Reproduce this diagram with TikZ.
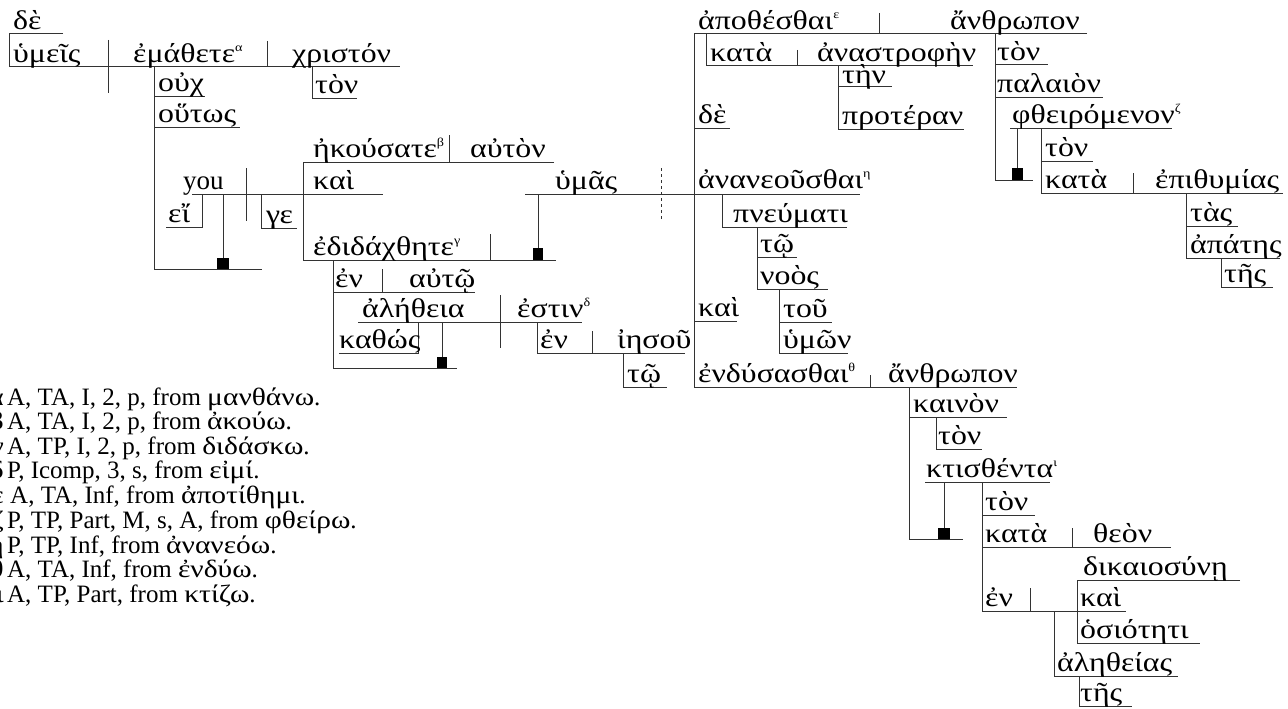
\documentclass[tikz,border=0pt]{standalone}
\usepackage{fontspec}
\setmainfont{Liberation Serif}
\newfontfamily\gr[FakeStretch=1.18]{Liberation Serif}
% raised morphology marker after a verb form
\newcommand\gs[1]{\raisebox{0.42em}{\fontsize{12}{13}\selectfont #1}}
% a word sitting on its base line: name, x, line y, text
\newcommand\wrd[4]{\node[wordtext] (#1) at (#2,#3-4.5) {#4};}
% one line of the parsing notes: name, y, marker, text
\newcommand\note[4]{\node[notetext,anchor=base east] (#1m) at (4,#2) {\gr #3};
  \node[notetext] (#1) at (7,#2) {#4};}
\begin{document}
\begin{tikzpicture}[x=1pt,y=-1pt,
  ln/.style={line width=1pt, draw=black!80},
  wordtext/.style={anchor=base west, inner sep=0pt, font=\gr\fontsize{27}{30}\selectfont},
  notetext/.style={anchor=base west, inner sep=0pt, font=\fontsize{25}{26}\selectfont},
  blk/.style={fill=black}]
\useasboundingbox (0,0) rectangle (1288,709);

% ---------- first clause: ὑμεῖς ἐμάθετε χριστόν ----------
\draw[ln] (63,34)--(9,34)--(9,67)--(400,67);
\draw[ln] (108,40)--(108,93);
\draw[ln] (267,41)--(267,67);
\draw[ln] (312,67)--(312,98)--(357,98);
\draw[ln] (154,67)--(154,269)--(262,269);
\draw[ln] (154,96)--(205,96);
\draw[ln] (154,127)--(240,127);
% εἴ γε clause
\draw[ln] (192,194)--(383,194);
\draw[ln] (246,168)--(246,221);
\draw[ln] (202,194)--(202,227)--(166,227);
\draw[ln] (261,194)--(261,228)--(297,228);
\draw[ln] (223,194)--(223,262);
\fill[blk] (217,258) rectangle (229,269);
% compound predicate ἠκούσατε / ἐδιδάχθητε
\draw[ln] (554,162)--(303,162)--(303,260)--(556,260);
\draw[ln] (449,135)--(449,162);
\draw[ln] (490,234)--(490,260);
\draw[ln] (525,194)--(860,194);
\draw[ln,dashed] (661,168)--(661,221);
\draw[ln] (538,194)--(538,250);
\fill[blk] (533,248) rectangle (543,260);
\draw[ln] (333,260)--(333,368)--(457,368);
\draw[ln] (333,292)--(475,292);
\draw[ln] (382,269)--(382,292);
\draw[ln] (358,322)--(582,322);
\draw[ln] (500,295)--(500,348);
\draw[ln] (418,322)--(418,353)--(339,353);
\draw[ln] (442,322)--(442,360);
\fill[blk] (437,357) rectangle (447,368);
\draw[ln] (537,322)--(537,353)--(685,353);
\draw[ln] (592,331)--(592,353);
\draw[ln] (623,353)--(623,387)--(667,387);

% ---------- infinitives: ἀποθέσθαι / ἀνανεοῦσθαι / ἐνδύσασθαι ----------
\draw[ln] (1087,34)--(694,34)--(694,387)--(1017,387);
\draw[ln] (879,13)--(879,34);
\draw[ln] (706,34)--(706,66)--(973,66);
\draw[ln] (797,50)--(797,66);
\draw[ln] (838,66)--(838,129)--(964,129);
\draw[ln] (838,87)--(892,87);
\draw[ln] (694,128)--(730,128);
\draw[ln] (995,34)--(995,180)--(1033,180);
\draw[ln] (995,65)--(1048,65);
\draw[ln] (995,97)--(1103,97);
\draw[ln] (1010,128)--(1172,128);
\draw[ln] (1017,128)--(1017,170);
\fill[blk] (1012,168) rectangle (1023,180);
\draw[ln] (1041,128)--(1041,193)--(1283,193);
\draw[ln] (1041,161)--(1093,161);
\draw[ln] (1133,173)--(1133,193);
\draw[ln] (1186,193)--(1186,258)--(1280,258);
\draw[ln] (1186,226)--(1238,226);
\draw[ln] (1221,258)--(1221,287)--(1273,287);
\draw[ln] (722,194)--(722,227)--(847,227);
\draw[ln] (757,227)--(757,289)--(828,289);
\draw[ln] (757,257)--(797,257);
\draw[ln] (779,289)--(779,353)--(848,353);
\draw[ln] (779,322)--(832,322);
\draw[ln] (694,321)--(737,321);
\draw[ln] (870,375)--(870,387);
\draw[ln] (909,387)--(909,539)--(963,539);
\draw[ln] (909,417)--(1007,417);
\draw[ln] (936,417)--(936,449)--(982,449);
\draw[ln] (925,482)--(1050,482);
\draw[ln] (944,482)--(944,530);
\fill[blk] (938,528) rectangle (950,539);
\draw[ln] (982,482)--(982,611)--(1126,611);
\draw[ln] (982,515)--(1035,515);
\draw[ln] (982,547)--(1171,547);
\draw[ln] (1072,528)--(1072,547);
\draw[ln] (1030,588)--(1030,611);
\draw[ln] (1240,580)--(1077,580)--(1077,643)--(1200,643);
\draw[ln] (1054,611)--(1054,676)--(1178,676);
\draw[ln] (1079,676)--(1079,706)--(1132,706);

% ---------- words ----------
\wrd{de1}{13}{34}{δὲ}
\wrd{hymeis}{13}{67}{ὑμεῖς}
\wrd{emathete}{133}{67}{ἐμάθετε\gs{α}}
\wrd{christon}{292}{67}{χριστόν}
\wrd{ton1}{315}{98}{τὸν}
\wrd{ouch}{158}{96}{οὐχ}
\wrd{houtos}{158}{127}{οὕτως}
\node[anchor=base west, inner sep=0pt, font=\fontsize{27}{30}\selectfont] (you) at (183,189.5) {you};
\wrd{ei}{168}{227}{εἴ}
\wrd{ge}{266}{228}{γε}
\wrd{ekousate}{313}{162}{ἠκούσατε\gs{β}}
\wrd{auton}{470}{162}{αὐτὸν}
\wrd{kai1}{313}{194}{καὶ}
\wrd{edidachthete}{313}{260}{ἐδιδάχθητε\gs{γ}}
\wrd{hymas}{555}{194}{ὑμᾶς}
\wrd{en1}{335}{292}{ἐν}
\wrd{auto}{409}{292}{αὐτῷ}
\wrd{aletheia}{362}{322}{ἀλήθεια}
\wrd{kathos}{339}{353}{καθώς}
\wrd{estin}{517}{322}{ἐστιν\gs{δ}}
\wrd{en2}{540}{353}{ἐν}
\wrd{iesou}{617}{353}{ἰησοῦ}
\wrd{to1}{627}{387}{τῷ}

\wrd{apothesthai}{698}{34}{ἀποθέσθαι\gs{ε}}
\wrd{anthropon1}{950}{34}{ἄνθρωπον}
\wrd{kata1}{710}{66}{κατὰ}
\wrd{anastrophen}{817}{66}{ἀναστροφὴν}
\wrd{ten}{842}{88}{τὴν}
\wrd{proteran}{842}{129}{προτέραν}
\wrd{de2}{698}{128}{δὲ}
\wrd{ton2}{997}{65}{τὸν}
\wrd{palaion}{997}{97}{παλαιὸν}
\wrd{phtheiromenon}{1012}{128}{φθειρόμενον\gs{ζ}}
\wrd{ton3}{1045}{161}{τὸν}
\wrd{kata2}{1045}{193}{κατὰ}
\wrd{epithymias}{1155}{193}{ἐπιθυμίας}
\wrd{tas}{1190}{226}{τὰς}
\wrd{apates}{1190}{258}{ἀπάτης}
\wrd{tes1}{1224}{287}{τῆς}
\wrd{ananeousthai}{698}{193}{ἀνανεοῦσθαι\gs{η}}
\wrd{pneumati}{733}{227}{πνεύματι}
\wrd{to2}{760}{257}{τῷ}
\wrd{noos}{760}{289}{νοὸς}
\wrd{kai2}{698}{321}{καὶ}
\wrd{tou}{783}{322}{τοῦ}
\wrd{hymon}{783}{353}{ὑμῶν}
\wrd{endysasthai}{698}{387}{ἐνδύσασθαι\gs{θ}}
\wrd{anthropon2}{888}{387}{ἄνθρωπον}
\wrd{kainon}{913}{417}{καινὸν}
\wrd{ton4}{938}{449}{τὸν}
\wrd{ktisthenta}{926}{482}{κτισθέντα\gs{ι}}
\wrd{ton5}{985}{515}{τὸν}
\wrd{kata3}{985}{547}{κατὰ}
\wrd{theon}{1093}{547}{θεὸν}
\wrd{en3}{985}{611}{ἐν}
\wrd{dikaiosyne}{1083}{580}{δικαιοσύνῃ}
\wrd{kai3}{1080}{611}{καὶ}
\wrd{hosioteti}{1080}{643}{ὁσιότητι}
\wrd{aletheias}{1057}{676}{ἀληθείας}
\wrd{tes2}{1080}{706}{τῆς}

% ---------- parsing notes ----------
\note{na}{405}{α}{A, TA, I, 2, p, from {\gr μανθάνω}.}
\note{nb}{429}{β}{A, TA, I, 2, p, from {\gr ἀκούω}.}
\note{ng}{454}{γ}{A, TP, I, 2, p, from {\gr διδάσκω}.}
\note{nd}{478}{δ}{P, Icomp, 3, s, from {\gr εἰμί}.}
\node[notetext,anchor=base east] (nem) at (4,503) {\gr ε};
\node[notetext] (ne) at (10,503) {A, TA, Inf, from {\gr ἀποτίθημι}.};
\note{nz}{528}{ζ}{P, TP, Part, M, s, A, from {\gr φθείρω}.}
\note{nh}{553}{η}{P, TP, Inf, from {\gr ἀνανεόω}.}
\note{nth}{577}{θ}{A, TA, Inf, from {\gr ἐνδύω}.}
\note{ni}{602}{ι}{A, TP, Part, from {\gr κτίζω}.}
\end{tikzpicture}
\end{document}
